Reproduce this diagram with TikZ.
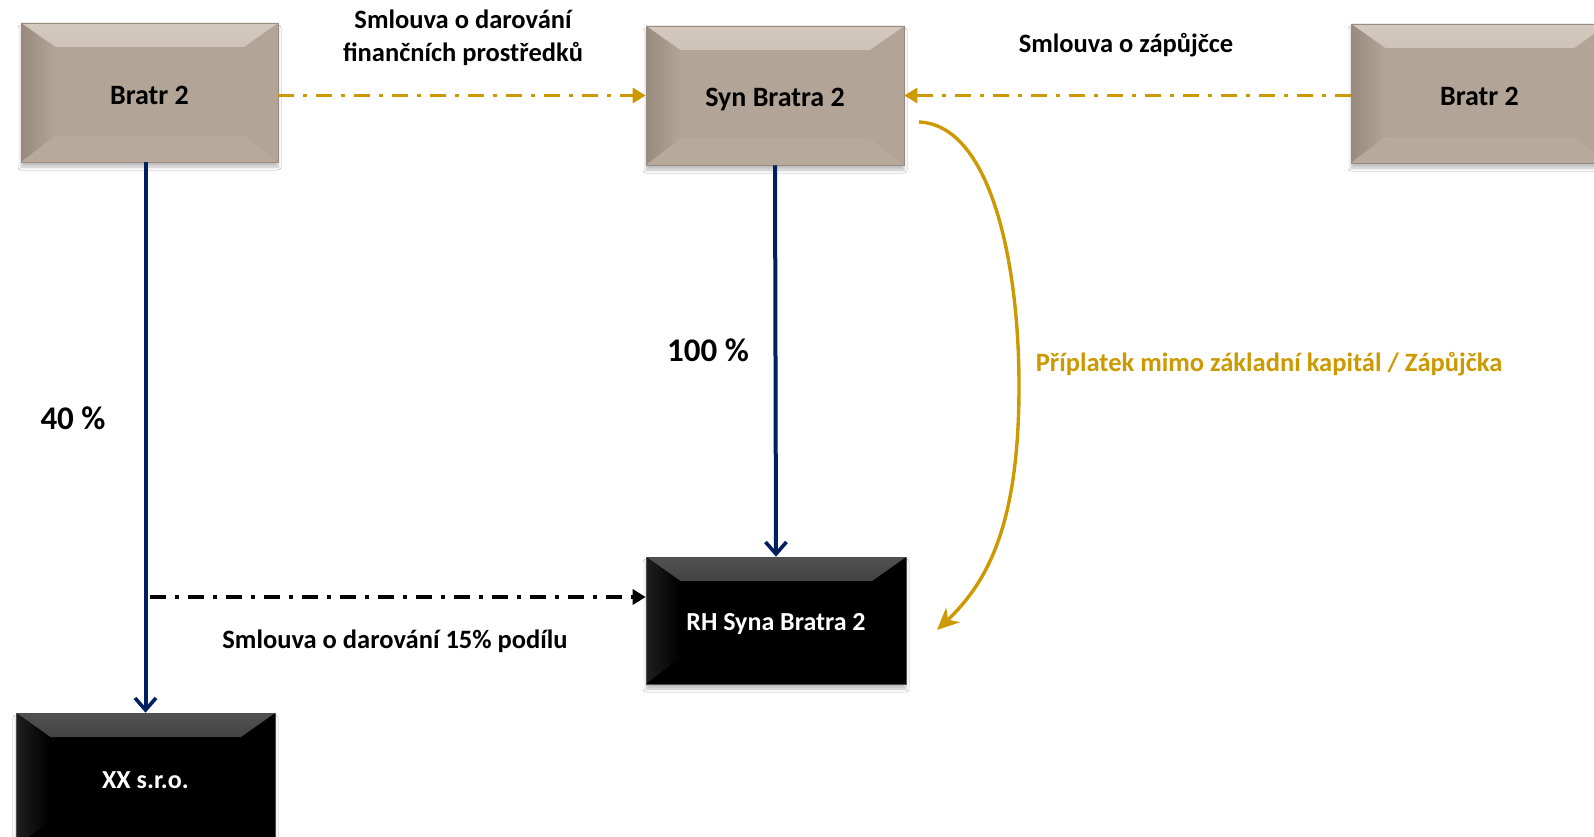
\documentclass[tikz,border=0pt]{standalone}
\usepackage{fontspec}
\setmainfont{Carlito}
\usetikzlibrary{arrows.meta,shadows.blur}
\definecolor{tanmain}{RGB}{178,164,150}
\definecolor{tantop}{RGB}{212,201,190}
\definecolor{tantopin}{RGB}{179,165,151}
\definecolor{tanleft}{RGB}{152,138,124}
\definecolor{tanleftin}{RGB}{178,164,150}
\definecolor{tanbot}{RGB}{183,170,156}
\definecolor{gold}{RGB}{204,153,0}
\definecolor{navy}{RGB}{0,32,96}
\tikzset{
  bevel/.style n args={5}{path picture={
    \fill[top color=#1, bottom color=#2] (path picture bounding box.north west) -- (path picture bounding box.north east) -- ([xshift=-34pt,yshift=-24pt]path picture bounding box.north east) -- ([xshift=34pt,yshift=-24pt]path picture bounding box.north west) -- cycle;
    \fill[left color=#3, right color=#4] (path picture bounding box.north west) -- ([xshift=34pt,yshift=-24pt]path picture bounding box.north west) -- ([xshift=34pt,yshift=26pt]path picture bounding box.south west) -- (path picture bounding box.south west) -- cycle;
    \fill[#5] (path picture bounding box.south west) -- ([xshift=34pt,yshift=26pt]path picture bounding box.south west) -- ([xshift=-34pt,yshift=26pt]path picture bounding box.south east) -- (path picture bounding box.south east) -- cycle;
  }},
  shade/.style={blur shadow={shadow xshift=0pt, shadow yshift=-5pt, shadow blur radius=3pt, shadow opacity=25}},
  tanbox/.style={shade, fill=tanmain, draw=tanmain!85!black, line width=0.6pt, inner sep=0pt,
    bevel={tantop}{tantopin}{tanleft}{tanleftin}{tanbot}},
  blackbox/.style={shade, fill=black, draw=black!70, line width=0.6pt, inner sep=0pt,
    bevel={black!68}{black}{black!88}{black}{black}},
  tantext/.style={font=\fontsize{28}{32}\selectfont\bfseries, text=black},
  blacktext/.style={font=\fontsize{26}{30}\selectfont\bfseries, text=white},
  lbl/.style={font=\fontsize{26.5}{33}\selectfont\bfseries, align=center, inner sep=0pt},
  pct/.style={font=\fontsize{33}{38}\selectfont\bfseries, inner sep=0pt},
  dashdot/.style={line width=3.2pt, dash pattern=on 16pt off 9pt on 4pt off 9pt},
  goldarrow/.style={dashdot, gold, -{Triangle[length=13pt,width=15pt]}},
  blackarrow/.style={dashdot, black, -{Triangle[length=13pt,width=15pt]}},
  navyarrow/.style={line width=4pt, navy, -{Straight Barb[length=12pt,width=21pt,line width=3.6pt]}},
  curvearrow/.style={line width=3.4pt, gold, -{Stealth[length=22pt,width=20pt,inset=7pt]}},
}
\begin{document}
\begin{tikzpicture}[x=1pt,y=-1pt]
\useasboundingbox (0,0) rectangle (1594,837);
\clip (0,0) rectangle (1594,837);
\fill[white] (0,0) rectangle (1594,837);

\node[tanbox, minimum width=257pt, minimum height=139pt] (A) at (149.5,92.5) {};
\node[tanbox, minimum width=258pt, minimum height=139pt] (B) at (775,95.5) {};
\node[tanbox, minimum width=257pt, minimum height=139pt] (C) at (1479.5,93.5) {};
\node[blackbox, minimum width=260pt, minimum height=127pt] (D) at (776,620.5) {};
\node[blackbox, minimum width=259pt, minimum height=134pt] (E) at (145.5,780) {};
\node[tantext] (At) at ([yshift=-3pt]A.center) {Bratr 2};
\node[tantext] (Bt) at ([yshift=-4pt]B.center) {Syn Bratra 2};
\node[tantext] (Ct) at ([yshift=-3pt]C.center) {Bratr 2};
\node[blacktext] (Dt) at ([yshift=-4pt]D.center) {RH Syna Bratra 2};
\node[blacktext] (Et) at (E.center) {XX s.r.o.};

\draw[goldarrow] (A.east |- B.west) -- (B.west);
\draw[goldarrow] (C.west |- B.east) -- (B.east);
\draw[navyarrow] (A.south -| E.north) -- (E.north);
\draw[navyarrow] (B.south) -- (D.north);
\coordinate (s) at (150,597);
\draw[blackarrow] (s) -- (s -| D.west);
\coordinate (c1) at (919,122);
\coordinate (c2) at (1019,386);
\coordinate (c3) at (937,630);
\draw[curvearrow] (c1) .. controls (990,125) and (1019,260) .. (c2) .. controls (1019,520) and (990,580) .. (c3);

\node[lbl] (t1) at (463,38) {Smlouva o darování\\finančních prostředků};
\node[lbl] (t2) at (1126,45) {Smlouva o zápůjčce};
\node[lbl] (t3) at (395,641) {Smlouva o darování 15\% podílu};
\node[lbl, text=gold] (t4) at (1269,364) {Příplatek mimo základní kapitál / Zápůjčka};
\node[pct] (p1) at (708,350) {100 \%};
\node[pct] (p2) at (73,418) {40 \%};
\end{tikzpicture}
\end{document}
